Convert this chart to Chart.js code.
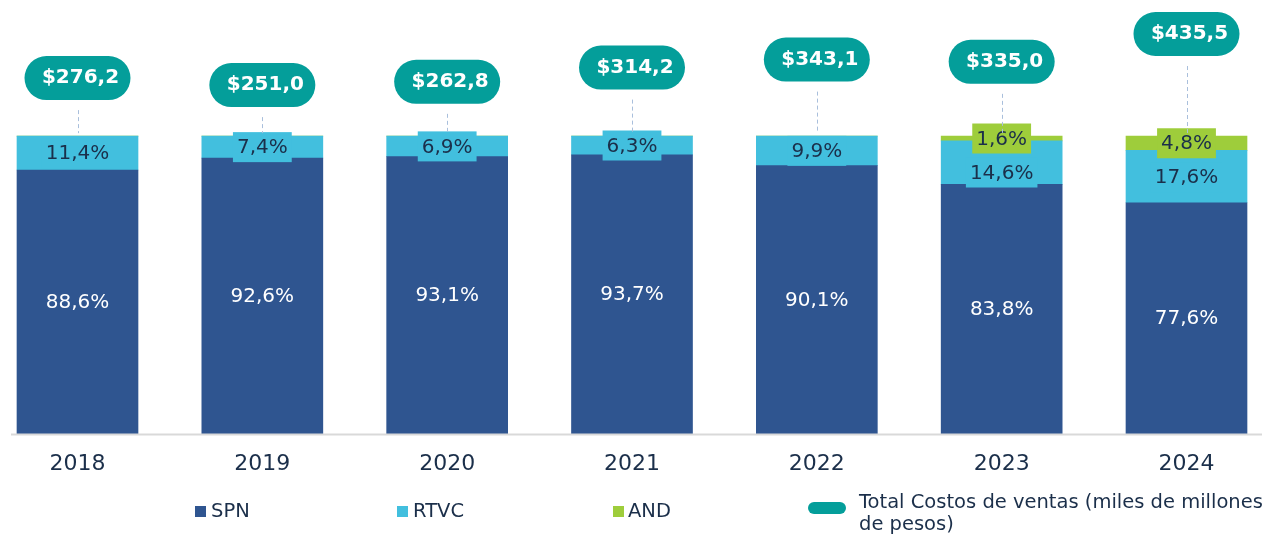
<!DOCTYPE html>
<html>
<head>
<meta charset="utf-8">
<script src="https://cdn.jsdelivr.net/npm/chart.js@4.4.1/dist/chart.umd.min.js"></script>
<style>
  body { margin: 0; background: #fff; font-family: "DejaVu Sans", sans-serif; }
  #wrap { position: relative; width: 1264px; height: 535px; overflow: hidden; }
  #c { position: absolute; left: 0; top: 0; }
  .lg { position: absolute; font-size: 19.5px; line-height: 22px; color: #1b2f4a; white-space: nowrap; }
  .sw { position: absolute; width: 11px; height: 11px; }
</style>
</head>
<body>
<div id="wrap">
  <canvas id="c" width="1264" height="535"></canvas>
  <div class="sw" style="left:195px;top:506px;background:#2f5590"></div>
  <div class="lg" style="left:211px;top:500px">SPN</div>
  <div class="sw" style="left:397px;top:506px;background:#42bfde"></div>
  <div class="lg" style="left:413px;top:500px">RTVC</div>
  <div class="sw" style="left:613px;top:506px;background:#9ecd3b"></div>
  <div class="lg" style="left:628px;top:500px">AND</div>
  <div class="sw" style="left:808px;top:502px;width:38px;height:12px;border-radius:6px;background:#049e9a"></div>
  <div class="lg" style="left:859px;top:491px">Total Costos de ventas (miles de millones<br>de pesos)</div>
</div>
<script>
const years = ['2018', '2019', '2020', '2021', '2022', '2023', '2024']
const spn = [88.6, 92.6, 93.1, 93.7, 90.1, 83.8, 77.6]
const rtvc = [11.4, 7.4, 6.9, 6.3, 9.9, 14.6, 17.6]
const and = [0, 0, 0, 0, 0, 1.6, 4.8]
const totals = [276.2, 251.0, 262.8, 314.2, 343.1, 335.0, 435.5]

const colSpn = '#2f5590'
const colRtvc = '#42bfde'
const colAnd = '#9ecd3b'
const teal = '#049e9a'
const dark = '#1b2f4a'

const fmt = (v) => v.toFixed(1).replace('.', ',')

const overlay = {
	id: 'overlay',
	afterDatasetsDraw(chart) {
		const ctx = chart.ctx
		const y0 = chart.scales.y.getPixelForValue(0)
		ctx.save()

		// axis line
		ctx.strokeStyle = '#d9d9d9'
		ctx.lineWidth = 2
		ctx.beginPath()
		ctx.moveTo(11, y0 + 1)
		ctx.lineTo(1262, y0 + 1)
		ctx.stroke()

		ctx.font = '20px "DejaVu Sans"'
		ctx.textAlign = 'center'
		ctx.textBaseline = 'middle'

		const mSpn = chart.getDatasetMeta(0)
		const mRtvc = chart.getDatasetMeta(1)
		const mAnd = chart.getDatasetMeta(2)
		const mTot = chart.getDatasetMeta(3)

		years.forEach((yr, i) => {
			// SPN
			const b0 = mSpn.data[i]
			ctx.fillStyle = '#ffffff'
			ctx.fillText(fmt(spn[i]) + '%', b0.x, (b0.y + b0.base) / 2 + 1)

			// AND box first, to know where RTVC label goes
			let andBottom = -1000
			let andBox = null
			if (and[i] > 0) {
				const b2 = mAnd.data[i]
				const cy = (b2.y + b2.base) / 2
				const t = fmt(and[i]) + '%'
				const w = ctx.measureText(t).width + 8
				andBox = { x: b2.x - w / 2, y: cy - 15, w: w, t: t, cx: b2.x, cy: cy }
				andBottom = cy + 15
			}

			// RTVC
			const b1 = mRtvc.data[i]
			let cy1 = Math.max((b1.y + b1.base) / 2, andBottom + 19)
			const t1 = fmt(rtvc[i]) + '%'
			const w1 = ctx.measureText(t1).width + 8
			ctx.fillStyle = colRtvc
			ctx.fillRect(b1.x - w1 / 2, cy1 - 15, w1, 30)
			ctx.fillStyle = dark
			ctx.fillText(t1, b1.x, cy1 + 1)

			if (andBox) {
				ctx.fillStyle = colAnd
				ctx.fillRect(andBox.x, andBox.y, andBox.w, 30)
				ctx.fillStyle = dark
				ctx.fillText(andBox.t, andBox.cx, andBox.cy + 1)
			}

			// total bubble
			const p = mTot.data[i]
			const top = chart.scales.y.getPixelForValue(100)
			ctx.strokeStyle = '#a9bfdc'
			ctx.lineWidth = 1
			ctx.setLineDash([4, 3])
			ctx.beginPath()
			ctx.moveTo(Math.round(p.x) + 0.5, p.y + 32)
			ctx.lineTo(Math.round(p.x) + 0.5, top - 3)
			ctx.stroke()
			ctx.setLineDash([])

			ctx.fillStyle = teal
			ctx.beginPath()
			ctx.roundRect(p.x - 53, p.y - 22, 106, 44, 22)
			ctx.fill()
			ctx.fillStyle = '#ffffff'
			ctx.font = 'bold 20px "DejaVu Sans"'
			ctx.fillText('$' + fmt(totals[i]), p.x + 3, p.y)
			ctx.font = '20px "DejaVu Sans"'
		})
		ctx.restore()
	},
}

const ctx = document.getElementById('c').getContext('2d')

const chart = new Chart(ctx, {
	type: 'bar',
	data: {
		labels: years,
		datasets: [
			{ label: 'SPN', data: spn, backgroundColor: colSpn, barThickness: 121, clip: false, order: 2 },
			{ label: 'RTVC', data: rtvc, backgroundColor: colRtvc, barThickness: 121, clip: false, order: 2 },
			{ label: 'AND', data: and, backgroundColor: colAnd, barThickness: 121, clip: false, order: 2 },
			{
				type: 'line',
				label: 'Total Costos de ventas (miles de millones de pesos)',
				data: totals,
				yAxisID: 'y2',
				showLine: false,
				pointRadius: 0,
				clip: false,
				order: 1,
			},
		],
	},
	options: {
		responsive: false,
		animation: false,
		layout: { padding: { left: 77.5, right: 77.5, top: 10, bottom: 41 } },
		plugins: {
			legend: { display: false },
			tooltip: { enabled: false },
		},
		scales: {
			x: {
				stacked: true,
				offset: false,
				grid: { display: false, drawTicks: false },
				border: { display: false },
				ticks: { color: dark, font: { family: 'DejaVu Sans', size: 22 }, padding: 17, maxRotation: 0 },
			},
			y: { stacked: true, display: false, min: 0, max: 142.4 },
			y2: { display: false, min: -1008, max: 522.3 },
		},
	},
	plugins: [overlay],
})
</script>
</body>
</html>
